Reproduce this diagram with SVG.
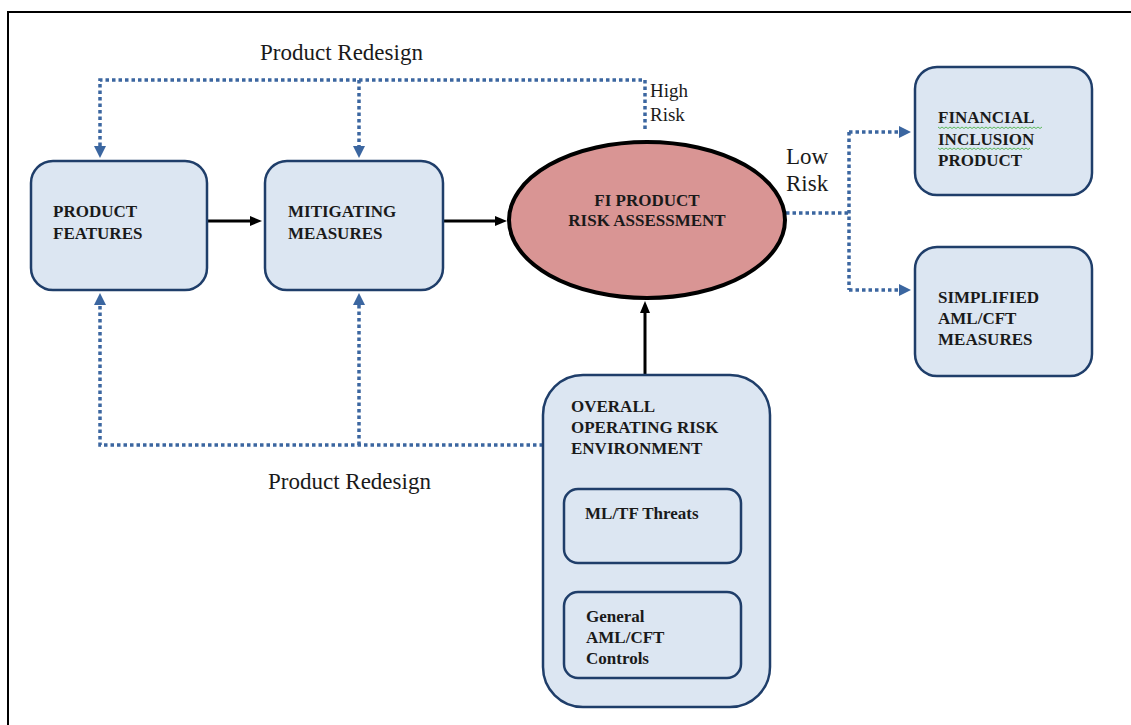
<svg xmlns="http://www.w3.org/2000/svg" width="1131" height="725" viewBox="0 0 1131 725">
<style>
.box{fill:#dce6f2;stroke:#1f3e6a;stroke-width:2.5}
.nt{font-family:"Liberation Serif",serif;font-weight:bold;font-size:17px;fill:#1a1a1a}
.lbl{font-family:"Liberation Serif",serif;font-size:23px;fill:#1a1a1a}
.sm{font-family:"Liberation Serif",serif;font-size:19px;fill:#1a1a1a}
.dot{fill:none;stroke:#3b66a0;stroke-width:3.5;stroke-dasharray:3.5 3}
.solid{fill:none;stroke:#000;stroke-width:3}
.wave{fill:none;stroke:#5cb85c;stroke-width:1}
</style>
<defs>
<marker id="ab" markerUnits="userSpaceOnUse" markerWidth="12" markerHeight="12" refX="2" refY="6" orient="auto">
<path d="M0,0 L12,6 L0,12 z" fill="#3b66a0"/>
</marker>
<marker id="ak" markerUnits="userSpaceOnUse" markerWidth="12" markerHeight="12" refX="2" refY="6" orient="auto">
<path d="M0,1 L12,6 L0,11 z" fill="#000"/>
</marker>
</defs>
<rect width="1131" height="725" fill="#fff"/>
<path d="M8,725 V12 H1131" fill="none" stroke="#000" stroke-width="2"/>

<g id="connectors">
<path class="dot" d="M645,129 V80 H100 V148" marker-end="url(#ab)"/>
<path class="dot" d="M359,80 V148" marker-end="url(#ab)"/>
<path class="dot" d="M543,445 H100 V303" marker-end="url(#ab)"/>
<path class="dot" d="M359,445 V303" marker-end="url(#ab)"/>
<path class="dot" d="M786,213 H849"/>
<path class="dot" d="M849,132 V290"/>
<path class="dot" d="M849,132 H901" marker-end="url(#ab)"/>
<path class="dot" d="M849,290 H901" marker-end="url(#ab)"/>
<path class="solid" d="M207,221 H252" marker-end="url(#ak)"/>
<path class="solid" d="M443,221 H497" marker-end="url(#ak)"/>
<path class="solid" d="M645,375 V311" marker-end="url(#ak)"/>
<text class="lbl" x="260" y="60">Product Redesign</text>
<text class="lbl" x="268" y="489">Product Redesign</text>
<text class="sm" x="650" y="97">High</text>
<text class="sm" x="650" y="121">Risk</text>
<text class="lbl" x="786" y="164" font-size="21">Low</text>
<text class="lbl" x="786" y="191" font-size="21">Risk</text>
</g>

<g id="product-features">
<rect class="box" x="31" y="161" width="176" height="129" rx="22"/>
<text class="nt" x="53" y="217">PRODUCT</text>
<text class="nt" x="53" y="239">FEATURES</text>
</g>

<g id="mitigating-measures">
<rect class="box" x="265" y="161" width="178" height="129" rx="22"/>
<text class="nt" x="288" y="217">MITIGATING</text>
<text class="nt" x="288" y="239">MEASURES</text>
</g>

<g id="risk-assessment">
<ellipse cx="647" cy="220" rx="138" ry="78" fill="#d99594" stroke="#000" stroke-width="4"/>
<text class="nt" x="647" y="206" text-anchor="middle">FI PRODUCT</text>
<text class="nt" x="647" y="226" text-anchor="middle">RISK ASSESSMENT</text>
</g>

<g id="financial-inclusion-product">
<rect class="box" x="915" y="67" width="177" height="128" rx="22"/>
<text class="nt" x="938" y="123">FINANCIAL</text>
<text class="nt" x="938" y="145">INCLUSION</text>
<text class="nt" x="938" y="166">PRODUCT</text>
<path class="wave" d="M938,127 l2,1.5 2,-1.5 2,1.5 2,-1.5 2,1.5 2,-1.5 2,1.5 2,-1.5 2,1.5 2,-1.5 2,1.5 2,-1.5 2,1.5 2,-1.5 2,1.5 2,-1.5 2,1.5 2,-1.5 2,1.5 2,-1.5 2,1.5 2,-1.5 2,1.5 2,-1.5 2,1.5 2,-1.5 2,1.5 2,-1.5 2,1.5 2,-1.5 2,1.5 2,-1.5 2,1.5 2,-1.5 2,1.5 2,-1.5 2,1.5 2,-1.5 2,1.5 2,-1.5 2,1.5 2,-1.5 2,1.5 2,-1.5 2,1.5 2,-1.5 2,1.5 2,-1.5 2,1.5 2,-1.5 2,1.5 2,-1.5"/>
<path class="wave" d="M938,148 l2,1.5 2,-1.5 2,1.5 2,-1.5 2,1.5 2,-1.5 2,1.5 2,-1.5 2,1.5 2,-1.5 2,1.5 2,-1.5 2,1.5 2,-1.5 2,1.5 2,-1.5 2,1.5 2,-1.5 2,1.5 2,-1.5 2,1.5 2,-1.5 2,1.5 2,-1.5 2,1.5 2,-1.5 2,1.5 2,-1.5 2,1.5 2,-1.5 2,1.5 2,-1.5 2,1.5 2,-1.5 2,1.5 2,-1.5 2,1.5 2,-1.5 2,1.5 2,-1.5 2,1.5 2,-1.5 2,1.5 2,-1.5 2,1.5 2,-1.5"/>
</g>

<g id="simplified-measures">
<rect class="box" x="915" y="247" width="177" height="129" rx="22"/>
<text class="nt" x="938" y="303">SIMPLIFIED</text>
<text class="nt" x="938" y="324">AML/CFT</text>
<text class="nt" x="938" y="345">MEASURES</text>
</g>

<g id="operating-environment">
<rect class="box" x="543" y="375" width="227" height="332" rx="40"/>
<text class="nt" x="571" y="412">OVERALL</text>
<text class="nt" x="571" y="433">OPERATING RISK</text>
<text class="nt" x="571" y="454">ENVIRONMENT</text>
</g>

<g id="ml-tf-threats">
<rect class="box" x="564" y="489" width="177" height="74" rx="14"/>
<text class="nt" x="585" y="519">ML/TF Threats</text>
</g>

<g id="general-controls">
<rect class="box" x="564" y="592" width="177" height="86" rx="14"/>
<text class="nt" x="586" y="622">General</text>
<text class="nt" x="586" y="643">AML/CFT</text>
<text class="nt" x="586" y="664">Controls</text>
</g>
</svg>
